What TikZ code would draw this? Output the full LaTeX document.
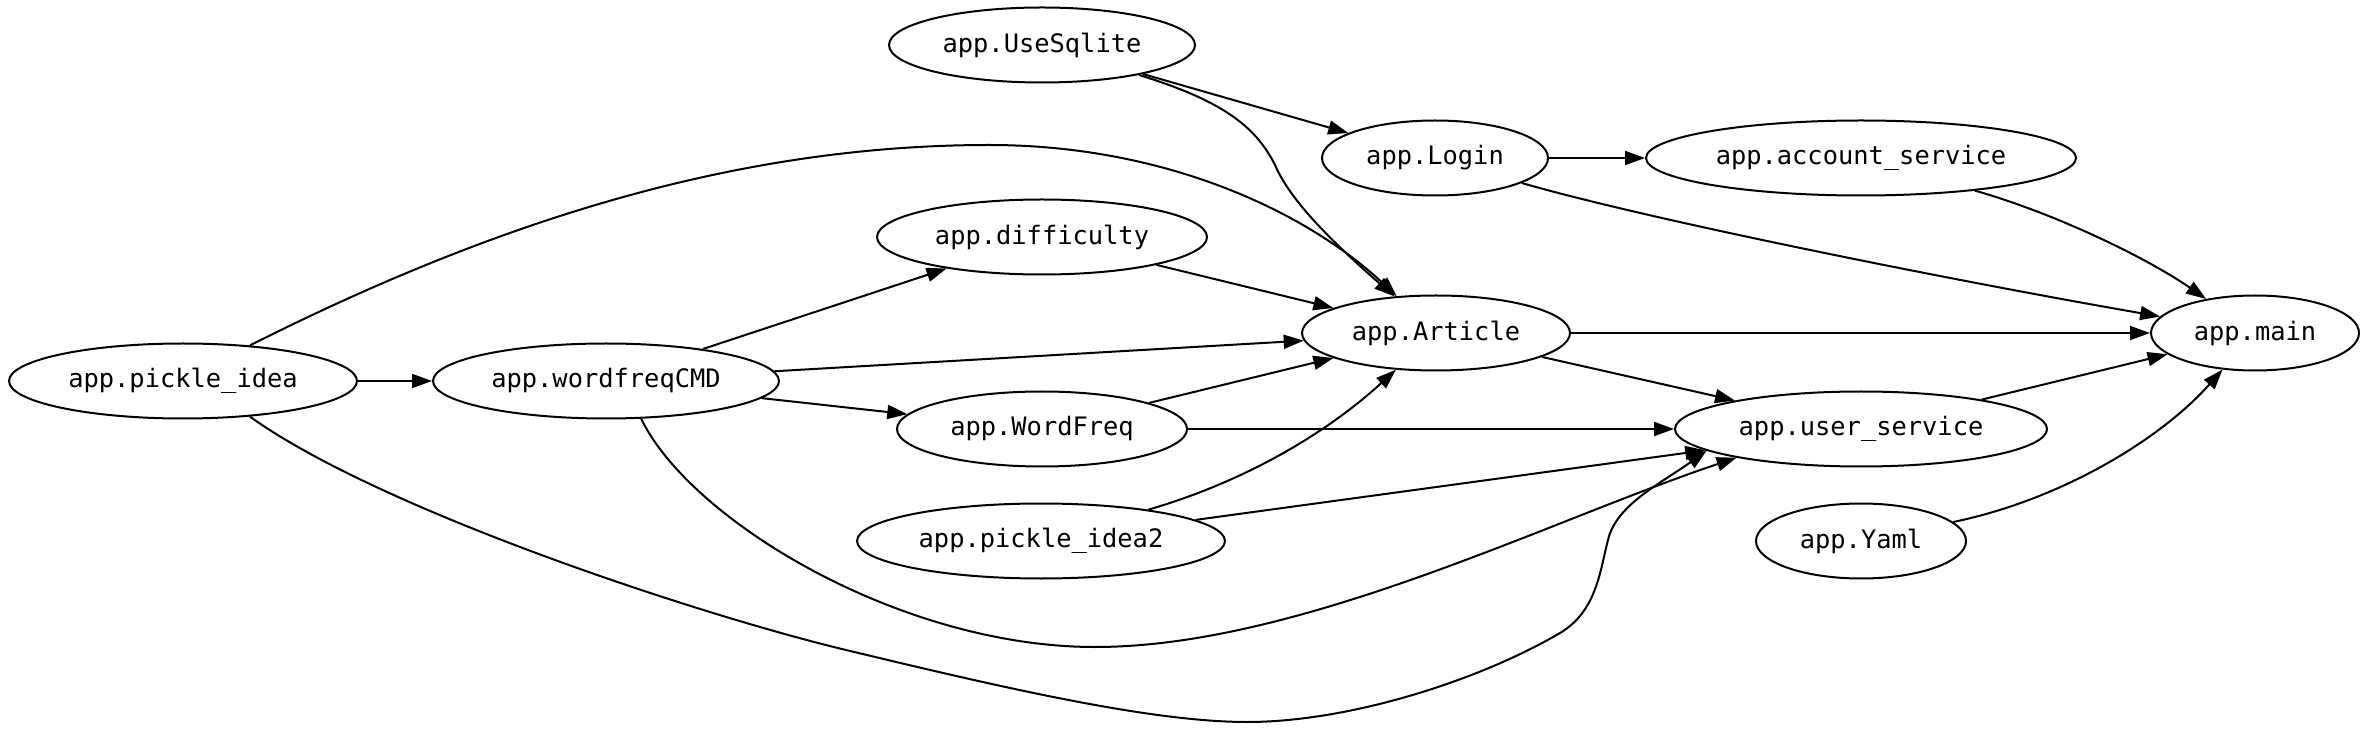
\documentclass[tikz,border=0pt]{standalone}
\usepackage{fontspec}
\newfontfamily\gvfont{DejaVu Sans Mono}
\usetikzlibrary{arrows.meta,shapes.geometric}
\begin{document}
\begin{tikzpicture}[x=0.5pt,y=-0.5pt,
  gv/.style={draw, ellipse, line width=1pt, inner sep=0pt, minimum height=37.5pt,
    font={\gvfont\fontsize{12.7pt}{15pt}\selectfont}},
  gvedge/.style={line width=1pt, -{Triangle[length=10pt,width=7pt]}}]
\useasboundingbox (0,0) rectangle (2369,731);
\node[gv, minimum width=153pt] (us) at (1042,45) {app.UseSqlite};
\node[gv, minimum width=113pt] (login) at (1435,158) {app.Login};
\node[gv, minimum width=215pt] (acc) at (1861,158) {app.account\_service};
\node[gv, minimum width=165pt] (diff) at (1042,237) {app.difficulty};
\node[gv, minimum width=174pt] (pi) at (183,381) {app.pickle\_idea};
\node[gv, minimum width=173pt] (wf) at (606,381) {app.wordfreqCMD};
\node[gv, minimum width=134pt] (art) at (1436,333) {app.Article};
\node[gv, minimum width=104pt] (main) at (2255,333) {app.main};
\node[gv, minimum width=145pt] (wfq) at (1042,429) {app.WordFreq};
\node[gv, minimum width=186pt] (usv) at (1861,429) {app.user\_service};
\node[gv, minimum width=184pt] (pi2) at (1041,541) {app.pickle\_idea2};
\node[gv, minimum width=105pt] (yaml) at (1861,541) {app.Yaml};

\draw[gvedge] (us) -- (login);
\draw[gvedge] (us) .. controls (1220,100) and (1255,125) .. (1275,165) .. controls (1290,200) and (1330,240) .. (art);
\draw[gvedge] (login) -- (acc);
\draw[gvedge] (login) .. controls (1650,220) and (1950,280) .. (main);
\draw[gvedge] (acc) .. controls (2060,215) and (2150,260) .. (main);
\draw[gvedge] (diff) -- (art);
\draw[gvedge] (pi) -- (wf);
\draw[gvedge] (pi.28.6) .. controls (499,220) and (739,145) .. (989,145) .. controls (1170,145) and (1310,215) .. (art);
\draw[gvedge] (pi.-28.6) .. controls (380,510) and (700,615) .. (846,650) .. controls (1000,687) and (1150,722) .. (1247,722) .. controls (1350,722) and (1480,680) .. (1560,633) .. controls (1597,611) and (1600,570) .. (1608,540) .. controls (1616,505) and (1660,484) .. (usv.188.8);
\draw[gvedge] (wf) -- (diff);
\draw[gvedge] (wf) -- (art);
\draw[gvedge] (wf) -- (wfq);
\draw[gvedge] (wf.-47.4) .. controls (690,520) and (900,647) .. (1095,647) .. controls (1300,647) and (1550,520) .. (usv.193);
\draw[gvedge] (wfq) -- (art);
\draw[gvedge] (wfq) -- (usv);
\draw[gvedge] (art) -- (usv);
\draw[gvedge] (art) -- (main);
\draw[gvedge] (usv) -- (main);
\draw[gvedge] (pi2) .. controls (1250,480) and (1330,430) .. (art);
\draw[gvedge] (pi2) -- (usv);
\draw[gvedge] (yaml) .. controls (2060,500) and (2160,440) .. (main);
\end{tikzpicture}
\end{document}
